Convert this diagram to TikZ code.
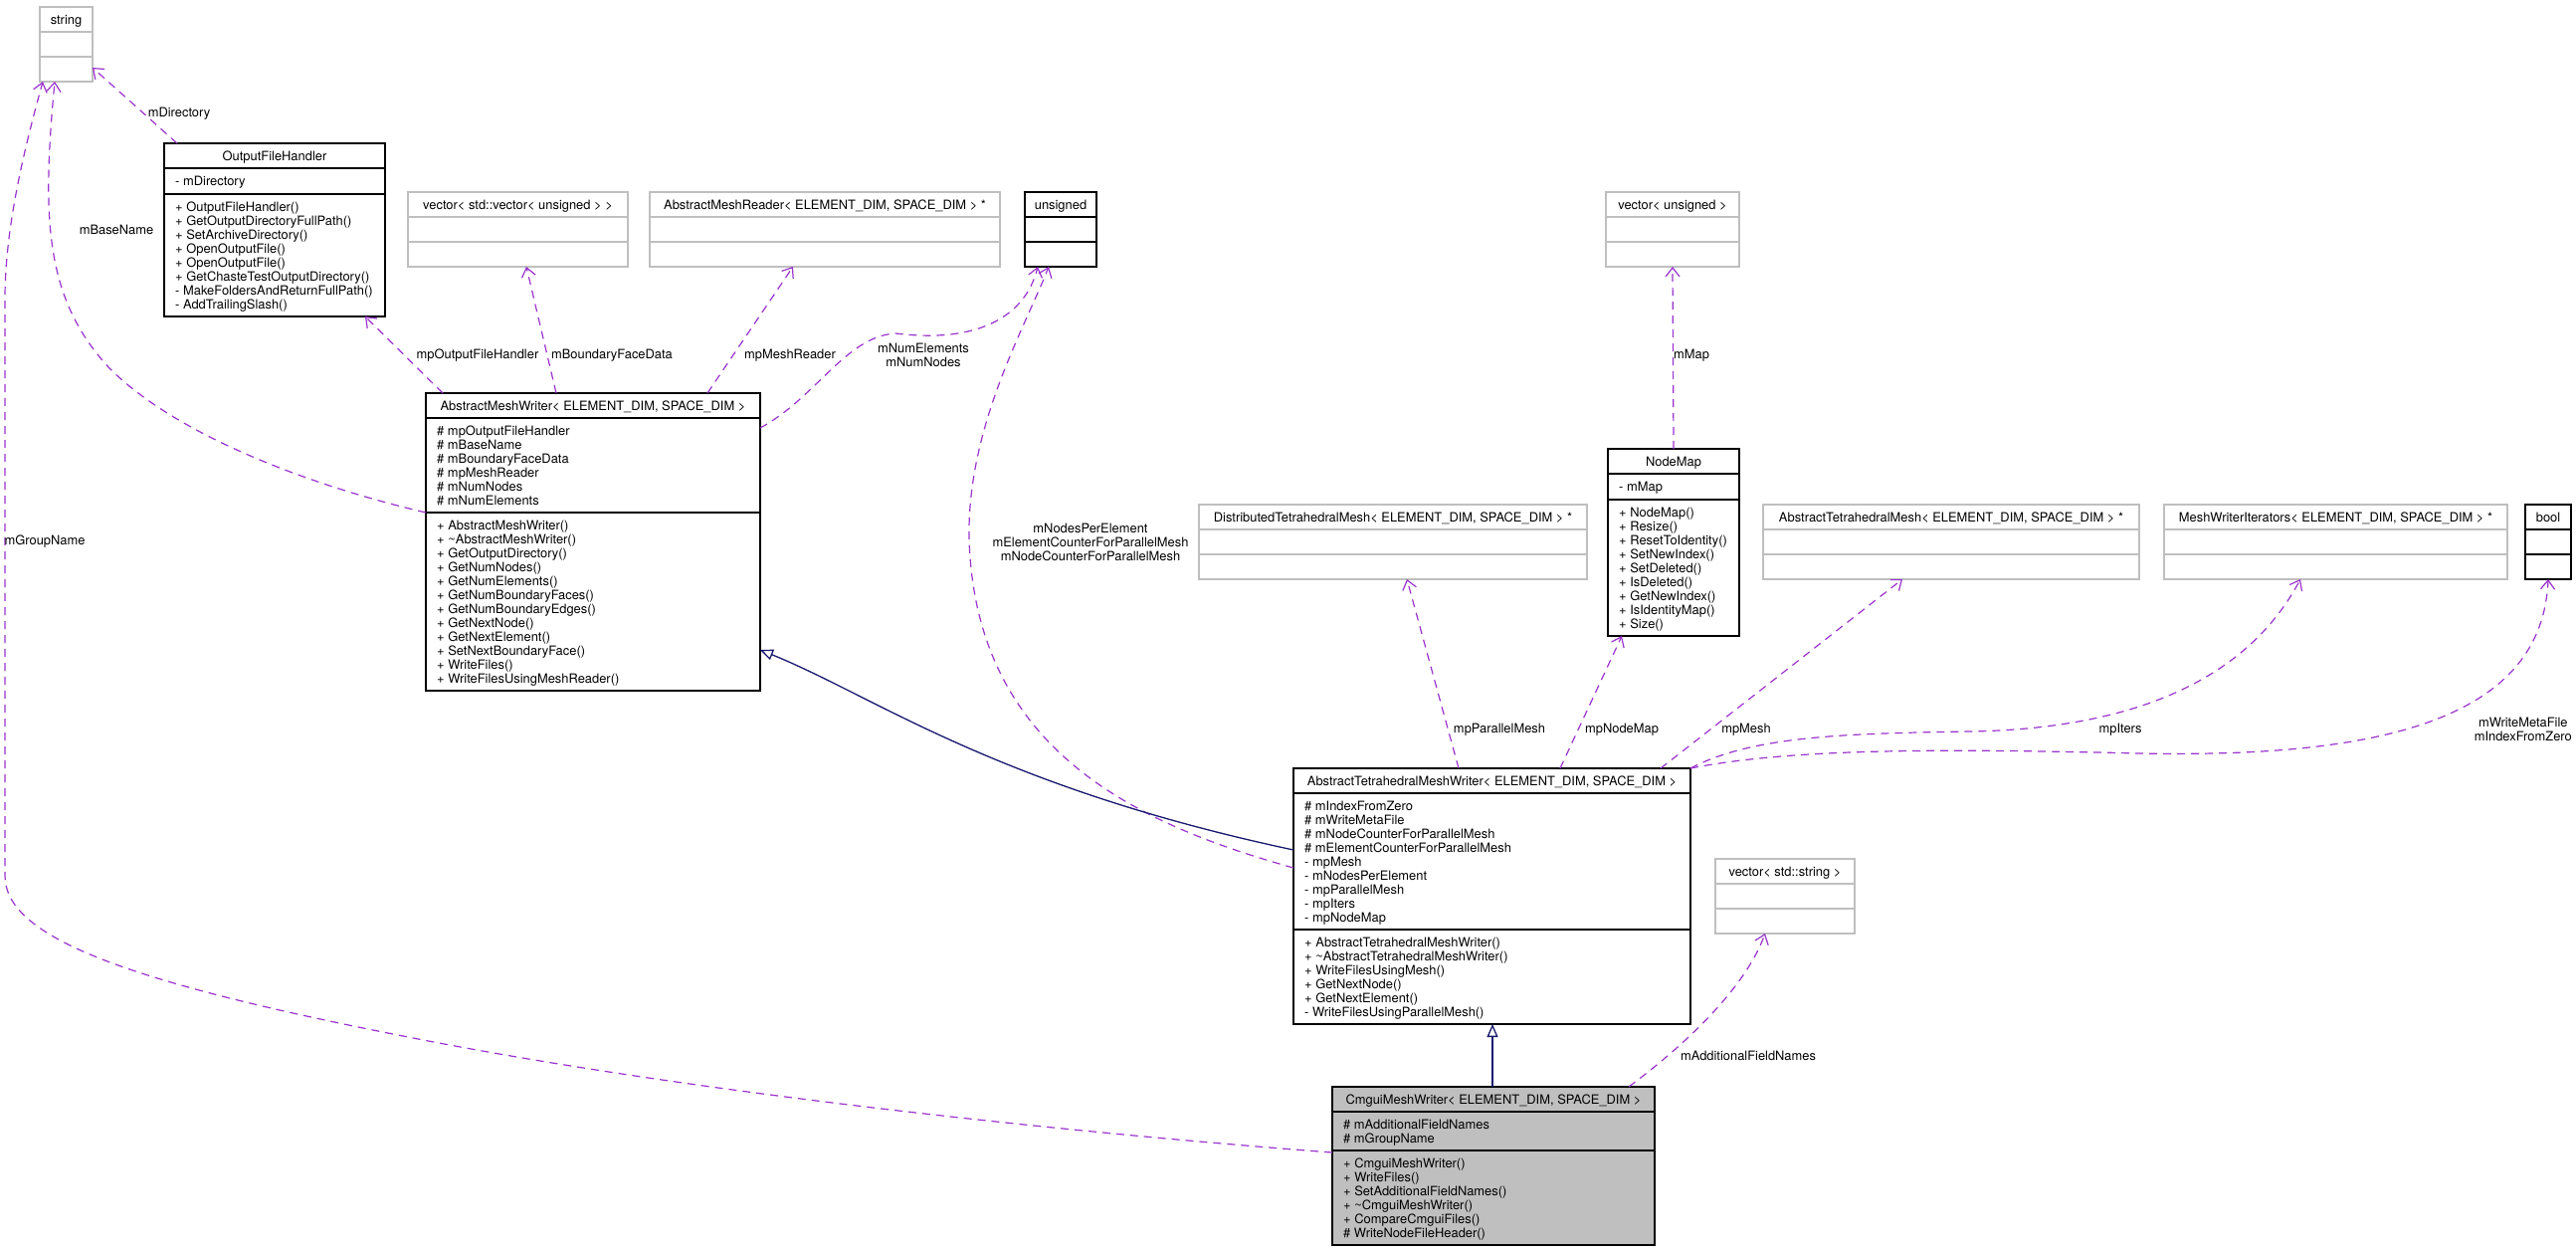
\documentclass[tikz,border=0pt]{standalone}
\usepackage{fontspec}
\setmainfont{TeX Gyre Heros}
\usetikzlibrary{arrows.meta}

\definecolor{grey75}{HTML}{BFBFBF}
\definecolor{usecol}{HTML}{9A32CD}
\definecolor{inhcol}{HTML}{191970}

\begin{document}
\begin{tikzpicture}[x=1pt,y=-1pt,
  every node/.style={font=\fontsize{12.9}{14}\selectfont, inner sep=0pt},
  box/.style={line width=1.3pt, outer sep=0pt},
  member/.style={anchor=base west},
  title/.style={anchor=base},
  use/.style={draw=usecol, line width=1.2pt, dash pattern=on 8pt off 6pt,
    -{Straight Barb[length=9pt,width=14pt]}},
  isa/.style={draw=inhcol, line width=1.3pt, -{Triangle[open,length=13pt,width=11pt]}}]

  \useasboundingbox (0,0) rectangle (2589,1256);

  % Empty classes: name/left/right/top/colour/title
  \foreach \n/\xa/\xb/\ya/\c/\t in {
      str/40/93/7/grey75/string,
      vv/410/631/193/grey75/{vector< std::vector< unsigned > >},
      amr/653/1005/193/grey75/{AbstractMeshReader< ELEMENT\_DIM, SPACE\_DIM > *},
      uns/1030/1102/193/black/unsigned,
      vu/1614/1748/193/grey75/{vector< unsigned >},
      dtm/1205/1595/507/grey75/{DistributedTetrahedralMesh< ELEMENT\_DIM, SPACE\_DIM > *},
      atm/1772/2150/507/grey75/{AbstractTetrahedralMesh< ELEMENT\_DIM, SPACE\_DIM > *},
      mwi/2175/2520/507/grey75/{MeshWriterIterators< ELEMENT\_DIM, SPACE\_DIM > *},
      bl/2538/2584/507/black/bool,
      vs/1724/1864/863/grey75/{vector< std::string >}} {
    \node[box, draw=\c, anchor=north west, minimum width={\xb-\xa}, minimum height=75] (\n) at (\xa,\ya) {};
    \draw[box, draw=\c] (\xa,{\ya+25}) -- (\xb,{\ya+25}) (\xa,{\ya+50}) -- (\xb,{\ya+50});
    \node[title] (\n-t) at ({(\xa+\xb)/2},{\ya+17}) {\t};
  }

  % OutputFileHandler
  \node[box, draw, anchor=north west, minimum width=222, minimum height=174] (ofh) at (165,144) {};
  \draw[box] (165,169) -- (387,169) (165,195) -- (387,195);
  \node[title] (ofh-t) at (276,161) {OutputFileHandler};
  \node[member] (ofh-a) at (176,186) {- mDirectory};
  \foreach \m [count=\i] in {+ OutputFileHandler(), + GetOutputDirectoryFullPath(),
      + SetArchiveDirectory(), + OpenOutputFile(), + OpenOutputFile(),
      + GetChasteTestOutputDirectory(), - MakeFoldersAndReturnFullPath(), - AddTrailingSlash()}
    \node[member] (ofh-m\i) at (176,{198+14*\i}) {\m};

  % AbstractMeshWriter
  \node[box, draw, anchor=north west, minimum width=336, minimum height=299] (amw) at (428,395) {};
  \draw[box] (428,420) -- (764,420) (428,515) -- (764,515);
  \node[title] (amw-t) at (596,412) {AbstractMeshWriter< ELEMENT\_DIM, SPACE\_DIM >};
  \foreach \m [count=\i] in {\# mpOutputFileHandler, \# mBaseName, \# mBoundaryFaceData,
      \# mpMeshReader, \# mNumNodes, \# mNumElements}
    \node[member] (amw-a\i) at (439,{423+14*\i}) {\m};
  \foreach \m [count=\i] in {+ AbstractMeshWriter(), + \textasciitilde AbstractMeshWriter(),
      + GetOutputDirectory(), + GetNumNodes(), + GetNumElements(), + GetNumBoundaryFaces(),
      + GetNumBoundaryEdges(), + GetNextNode(), + GetNextElement(), + SetNextBoundaryFace(),
      + WriteFiles(), + WriteFilesUsingMeshReader()}
    \node[member] (amw-m\i) at (439,{518+14*\i}) {\m};

  % NodeMap
  \node[box, draw, anchor=north west, minimum width=132, minimum height=188] (nm) at (1616,451) {};
  \draw[box] (1616,476) -- (1748,476) (1616,502) -- (1748,502);
  \node[title] (nm-t) at (1682,468) {NodeMap};
  \node[member] (nm-a) at (1627,493) {- mMap};
  \foreach \m [count=\i] in {+ NodeMap(), + Resize(), + ResetToIdentity(), + SetNewIndex(),
      + SetDeleted(), + IsDeleted(), + GetNewIndex(), + IsIdentityMap(), + Size()}
    \node[member] (nm-m\i) at (1627,{505+14*\i}) {\m};

  % AbstractTetrahedralMeshWriter
  \node[box, draw, anchor=north west, minimum width=399, minimum height=257] (atmw) at (1300,772) {};
  \draw[box] (1300,797) -- (1699,797) (1300,934) -- (1699,934);
  \node[title] (atmw-t) at (1499.5,789) {AbstractTetrahedralMeshWriter< ELEMENT\_DIM, SPACE\_DIM >};
  \foreach \m [count=\i] in {\# mIndexFromZero, \# mWriteMetaFile, \# mNodeCounterForParallelMesh,
      \# mElementCounterForParallelMesh, - mpMesh, - mNodesPerElement, - mpParallelMesh,
      - mpIters, - mpNodeMap}
    \node[member] (atmw-a\i) at (1311,{800+14*\i}) {\m};
  \foreach \m [count=\i] in {+ AbstractTetrahedralMeshWriter(),
      + \textasciitilde AbstractTetrahedralMeshWriter(), + WriteFilesUsingMesh(),
      + GetNextNode(), + GetNextElement(), - WriteFilesUsingParallelMesh()}
    \node[member] (atmw-m\i) at (1311,{937+14*\i}) {\m};

  % CmguiMeshWriter
  \node[box, draw, fill=grey75, anchor=north west, minimum width=324, minimum height=159] (cmw) at (1339,1092) {};
  \draw[box] (1339,1117) -- (1663,1117) (1339,1156) -- (1663,1156);
  \node[title] (cmw-t) at (1501,1109) {CmguiMeshWriter< ELEMENT\_DIM, SPACE\_DIM >};
  \foreach \m [count=\i] in {\# mAdditionalFieldNames, \# mGroupName}
    \node[member] (cmw-a\i) at (1350,{1120+14*\i}) {\m};
  \foreach \m [count=\i] in {+ CmguiMeshWriter(), + WriteFiles(), + SetAdditionalFieldNames(),
      + \textasciitilde CmguiMeshWriter(), + CompareCmguiFiles(), \# WriteNodeFileHeader()}
    \node[member] (cmw-m\i) at (1350,{1159+14*\i}) {\m};

  % Usage relations
  \draw[use] (178,0 |- ofh.north) -- (str.east |- 0,68);
  \draw[use] (amw.west |- 0,515) .. controls (320,490) and (180,440) .. (110,370)
    .. controls (45,300) and (42,220) .. (55,0 |- str.south);
  \draw[use] (cmw.west |- 0,1158) .. controls (1100,1140) and (700,1100) .. (400,1040)
    .. controls (120,985) and (5,940) .. (5,880) -- (5,300)
    .. controls (5,220) and (30,130) .. (43,0 |- str.south);
  \draw[use] (445,0 |- amw.north) -- (367,0 |- ofh.south);
  \draw[use] (559,0 |- amw.north) -- (529,0 |- vv.south);
  \draw[use] (711,0 |- amw.north) -- (797,0 |- amr.south);
  \draw[use] (amw.east |- 0,430) .. controls (820,400) and (850,338) .. (900,335)
    .. controls (980,345) and (1030,320) .. (1043,0 |- uns.south);
  \draw[use] (atmw.west |- 0,872) .. controls (1150,830) and (990,760) .. (975,560)
    .. controls (965,440) and (1030,330) .. (1054,0 |- uns.south);
  \draw[use] (nm.north) -- (vu.south);
  \draw[use] (1466,0 |- atmw.north) -- (1414,0 |- dtm.south);
  \draw[use] (1568,0 |- atmw.north) -- (1630,0 |- nm.south);
  \draw[use] (1669,0 |- atmw.north) -- (1912,0 |- atm.south);
  \draw[use] (atmw.north east) .. controls (1760,740) and (1850,737) .. (1980,735)
    .. controls (2150,732) and (2260,680) .. (2312,0 |- mwi.south);
  \draw[use] (atmw.north east) .. controls (1800,752) and (1950,752) .. (2150,757)
    .. controls (2400,762) and (2555,720) .. (bl.south);
  \draw[use] (1637,0 |- cmw.north) .. controls (1700,1045) and (1755,990) .. (1774,0 |- vs.south);

  % Inheritance
  \draw[isa] (atmw.west |- 0,854) .. controls (1000,790) and (880,700) .. (amw.east |- 0,653);
  \draw[isa] (1500,0 |- cmw.north) -- (1500,0 |- atmw.south);

  % Labels
  \node (l-dir) at (180,114) {mDirectory};
  \node (l-base) at (117,231) {mBaseName};
  \node (l-group) at (45,544) {mGroupName};
  \node (l-ofh) at (480,357) {mpOutputFileHandler};
  \node (l-bfd) at (615,357) {mBoundaryFaceData};
  \node (l-amr) at (794,357) {mpMeshReader};
  \node[align=center] (l-num) at (928,357) {mNumElements\\mNumNodes};
  \node (l-map) at (1700,357) {mMap};
  \node[align=center] (l-npe) at (1096,545) {mNodesPerElement\\mElementCounterForParallelMesh\\mNodeCounterForParallelMesh};
  \node (l-par) at (1507,733) {mpParallelMesh};
  \node (l-nm) at (1630,733) {mpNodeMap};
  \node (l-mesh) at (1755,733) {mpMesh};
  \node (l-it) at (2131,733) {mpIters};
  \node[align=center, anchor=east] (l-wmf) at (2585,733) {mWriteMetaFile\\mIndexFromZero};
  \node (l-afn) at (1757,1061) {mAdditionalFieldNames};
\end{tikzpicture}
\end{document}
